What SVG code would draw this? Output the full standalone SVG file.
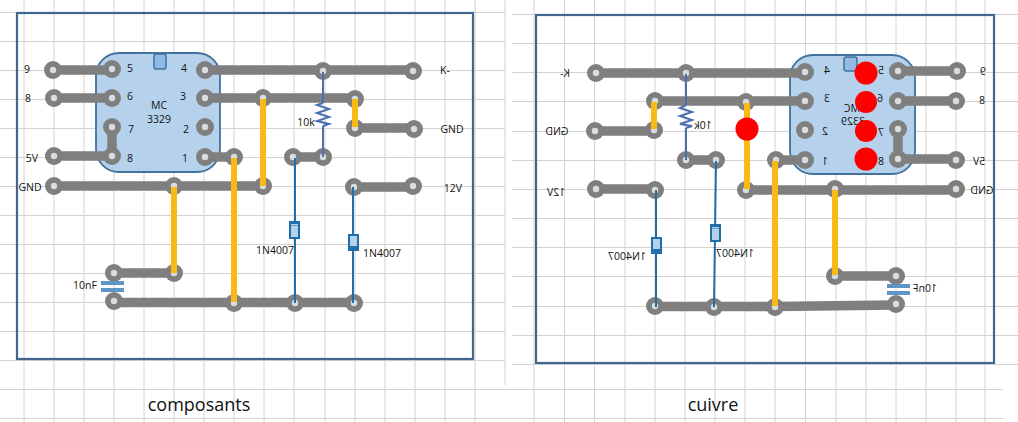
<svg xmlns="http://www.w3.org/2000/svg" width="1018" height="422" viewBox="0 0 1018 422">
<style>
text{font-family:"Open Sans","Liberation Sans",sans-serif;font-size:10.5px;fill:#111;text-anchor:middle}
.cap{font-size:18px;font-family:"Open Sans","Liberation Sans",sans-serif}
.grid{stroke:#d2d2d2;stroke-width:1;fill:none}
.frame{fill:none;stroke:#41688c;stroke-width:2.2}
.ic{fill:#b6d1ec;stroke:#41719c;stroke-width:1.8}
.notch{fill:#8fbbe6;stroke:#41719c;stroke-width:1.5}
.tr{stroke:#7f7f7f;stroke-width:9.500;fill:none}
.y{stroke:#f8bb16;stroke-width:6;fill:none}
.d{stroke:#1f6fa8;stroke-width:2;fill:none}
.r{stroke:#4a6fb0;stroke-width:2;fill:none}
.body{fill:#b6d1ec;stroke:#1f6fa8;stroke-width:2}
.c{fill:#5f95c6}
.red{fill:#f00}
.hole{fill:#d9dcdf}
.pad{fill:#7f7f7f}
</style>
<defs>
<g id="p"><circle class="pad" r="9"/><circle class="hole" r="3.2"/></g>
</defs>
<rect width="1018" height="422" fill="#fff"/>
<g id="grid-left" class="grid">
<path d="M24 0V422M54 0V422M84 0V422M114 0V422M144 0V422M174 0V422M204 0V422M234 0V422M264 0V422M294 0V422M325 0V422M355 0V422M385 0V422M415 0V422M445 0V422M475 0V422M505 0V385"/>
<path d="M0 12.5H505M0 41.5H505M0 70.5H505M0 99.5H505M0 128.5H505M0 157.5H505M0 186.5H505M0 215.5H505M0 244.5H505M0 273.5H505M0 302.5H505M0 331.5H505M0 360.5H505M0 389.5H1003M0 418.5H1003"/>
</g>
<g id="grid-right" class="grid">
<path d="M534 0V422M564.5 0V422M594.5 0V422M625 0V422M655 0V422M685 0V422M715 0V422M745 0V422M775 0V422M805.5 0V422M836 0V422M866 0V422M896 0V422M926 0V422M956 0V422M985 0V422"/>
<path d="M512 14.5H1018M512 43.5H1018M512 72.5H1018M512 101.5H1018M512 131.5H1018M512 160.5H1018M512 189.5H1018M512 218.5H1018M512 247.5H1018M512 276.5H1018M512 306.5H1018M512 335.5H1018M512 364.5H1018"/>
</g>
<rect id="frame-left" class="frame" x="17" y="13" width="456" height="346"/>
<rect id="frame-right" class="frame" x="536" y="15" width="458" height="348"/>

<g id="ic-left"><rect class="ic" x="96" y="53" width="124" height="119" rx="23"/><rect class="notch" x="154" y="54" width="12" height="15" rx="2.5"/>
<text x="159" y="109">MC</text><text x="159" y="123">3329</text>
<text x="130" y="72">5</text><text x="130" y="100">6</text><text x="131" y="133">7</text><text x="130" y="162">8</text>
<text x="184" y="72">4</text><text x="183" y="100">3</text><text x="186" y="133">2</text><text x="185" y="162">1</text></g>

<g id="ic-right"><rect class="ic" x="790" y="55" width="125" height="119" rx="23"/><rect class="notch" x="844" y="57" width="13" height="14" rx="2.5"/>
<g transform="translate(1711,0) scale(-1,1)"><text x="859" y="112">MC</text><text x="858" y="125">3329</text>
<text x="830" y="74">5</text><text x="831" y="102">6</text><text x="830" y="136">7</text><text x="830" y="165">8</text>
<text x="884" y="74">4</text><text x="884" y="102">3</text><text x="886" y="135">2</text><text x="886" y="165">1</text></g></g>

<g id="connectors">
<g id="tracks-left" class="tr">
<path d="M53 70H112M54 98H112M54 156H112V127M205 70H413M205 98H355M205 157H234M54 186H263M293 157H323M355 128H414M354 187H413M114 273H174M114 302.500H354"/>
</g>
<g id="tracks-right" class="tr">
<path d="M596 73H805M655 101H805M595 131H654M686 160H716M596 189H655M776 160H805M746 190H956M898 71H957M898 101H956M898 129V159H956M655 306.500H775L896 305M835 276H896"/>
</g>
</g>

<g id="pads-left">
<use href="#p" x="53" y="70"/><use href="#p" x="54" y="98"/><use href="#p" x="54" y="156"/><use href="#p" x="54" y="186"/>
<use href="#p" x="112" y="69"/><use href="#p" x="112" y="98"/><use href="#p" x="112" y="127"/><use href="#p" x="112" y="156"/>
<use href="#p" x="205" y="70"/><use href="#p" x="205" y="98"/><use href="#p" x="205" y="127"/><use href="#p" x="205" y="157"/>
<use href="#p" x="263" y="98"/><use href="#p" x="234" y="157"/><use href="#p" x="174" y="186"/><use href="#p" x="263" y="186"/>
<use href="#p" x="323" y="71"/><use href="#p" x="413" y="71"/><use href="#p" x="355" y="99"/><use href="#p" x="355" y="128"/><use href="#p" x="414" y="129"/>
<use href="#p" x="293" y="157"/><use href="#p" x="323" y="157"/><use href="#p" x="354" y="187"/><use href="#p" x="413" y="186"/>
<use href="#p" x="114" y="273"/><use href="#p" x="174" y="273"/><use href="#p" x="114" y="301"/><use href="#p" x="234" y="303"/><use href="#p" x="295" y="303"/><use href="#p" x="354" y="303"/>
</g>
<g id="pads-right">
<use href="#p" x="596" y="73"/><use href="#p" x="686" y="73"/><use href="#p" x="655" y="101"/><use href="#p" x="746" y="102"/><use href="#p" x="595" y="131"/><use href="#p" x="654" y="130"/>
<use href="#p" x="686" y="160"/><use href="#p" x="716" y="160"/><use href="#p" x="596" y="189"/><use href="#p" x="655" y="190"/><use href="#p" x="746" y="190"/><use href="#p" x="776" y="160"/><use href="#p" x="835" y="189"/>
<use href="#p" x="805" y="72"/><use href="#p" x="805" y="101"/><use href="#p" x="805" y="130"/><use href="#p" x="805" y="160"/>
<use href="#p" x="898" y="71"/><use href="#p" x="898" y="101"/><use href="#p" x="898" y="129"/><use href="#p" x="898" y="159"/>
<use href="#p" x="957" y="71"/><use href="#p" x="956" y="101"/><use href="#p" x="956" y="160"/><use href="#p" x="956" y="189"/>
<use href="#p" x="655" y="306"/><use href="#p" x="714" y="307"/><use href="#p" x="775" y="307"/><use href="#p" x="896" y="304"/><use href="#p" x="835" y="276"/><use href="#p" x="896" y="276"/>
</g>

<g id="wires">
<path class="y" d="M263 99V186M234 158V302M174 187V273M355 99V127"/>
<path class="y" d="M747 103V189M775 161V306M835 190V275M654 102V129"/>
<path class="d" d="M295 158V303M353 187V303M716 161L714 307M656 190V307"/>
<path class="r" d="M323 72V103M323 126V157M686 74V105M686 128V160"/>
<path class="r" d="M323 103L317 105L329 109L317 113L329 117L317 121L329 124L323 126"/>
<path class="r" d="M686 105L680 108L692 112L680 116L692 120L680 124L692 126L686 128"/>
</g>

<g id="d1"><rect class="body" x="290" y="222" width="9" height="16"/><rect x="290" y="222" width="9" height="4" fill="#1f6fa8"/><rect x="291" y="224" width="7" height="1.500" fill="#b6d1ec"/></g>
<g id="d2"><rect class="body" x="349" y="235" width="9" height="15"/><rect x="348" y="246" width="11" height="5" fill="#1f6fa8"/></g>
<g id="d3"><rect class="body" x="711" y="225" width="9" height="16"/><rect x="711" y="225" width="9" height="4" fill="#1f6fa8"/><rect x="712" y="227" width="7" height="1.500" fill="#b6d1ec"/></g>
<g id="d4"><rect class="body" x="652" y="238" width="9" height="15"/><rect x="651" y="249" width="11" height="5" fill="#1f6fa8"/></g>
<g id="c1"><rect class="c" x="101" y="281" width="23" height="4"/><rect class="c" x="101" y="288" width="23" height="4"/></g>
<g id="c2"><rect class="c" x="887" y="284" width="23" height="4"/><rect class="c" x="887" y="291" width="23" height="4"/></g>

<g id="reds">
<circle class="red" cx="866" cy="73" r="11.500"/><circle class="red" cx="866" cy="102" r="11"/><circle class="red" cx="866" cy="131" r="11"/><circle class="red" cx="866" cy="159" r="11.500"/><circle class="red" cx="747" cy="129" r="11.500"/>
</g>

<g id="labels-left">
<text x="27" y="73">9</text><text x="28" y="102">8</text><text x="32" y="162">5V</text><text x="30" y="191">GND</text>
<text x="445" y="74">K-</text><text x="452" y="133">GND</text><text x="453" y="192">12V</text>
<text x="306" y="126">10k</text><text x="275" y="254">1N4007</text><text x="382" y="257">1N4007</text><text x="85" y="289">10nF</text>
<text class="cap" x="199" y="411">composants</text>
</g>
<g id="labels-right" transform="translate(1018,0) scale(-1,1)">
<text x="35" y="75">9</text><text x="36" y="104">8</text><text x="39" y="165">5V</text><text x="36" y="194">GND</text>
<text x="453" y="77">K-</text><text x="461" y="135">GND</text><text x="462" y="196">12V</text>
<text x="315" y="129">10k</text><text x="283" y="257">1N4007</text><text x="391" y="260">1N4007</text><text x="93" y="292">10nF</text>
</g>
<text class="cap" x="713" y="411">cuivre</text>
</svg>
